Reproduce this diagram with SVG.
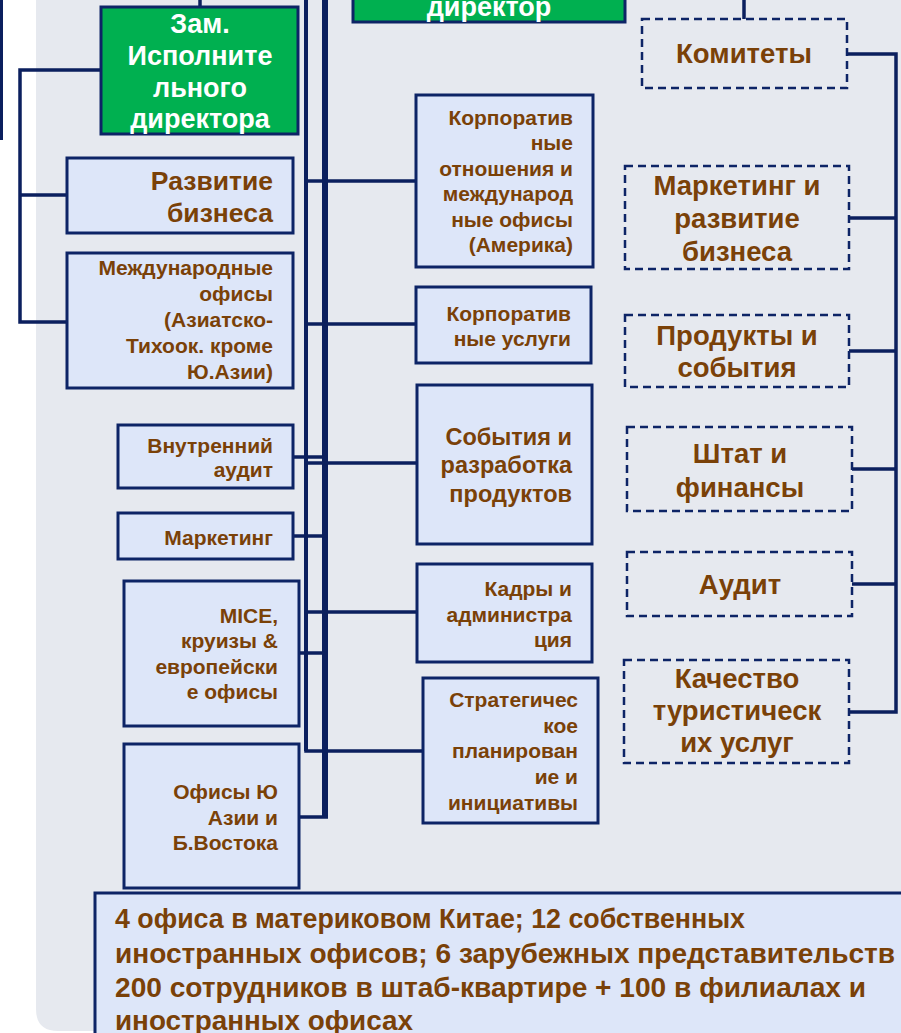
<svg xmlns="http://www.w3.org/2000/svg" width="901" height="1033" viewBox="0 0 901 1033">
<style>
.box{fill:#dde6f9;stroke:#0d2466;stroke-width:3}
.green{fill:#00b050;stroke:#0d2466;stroke-width:3}
.dash{fill:none;stroke:#0d2466;stroke-width:2.5;stroke-dasharray:8 5}
.ln{fill:none;stroke:#0b1f5e;stroke-width:3.5}
.bus{fill:none;stroke:#0b1f5e}
text{font-family:"Liberation Sans",Arial,sans-serif;font-weight:bold}
.w{fill:#ffffff;font-size:27px;text-anchor:middle}
.b{fill:#7a4108}
.r{text-anchor:end}
.c{text-anchor:middle}
.s20{font-size:21px}
.s23{font-size:23.5px}
.s25{font-size:26.5px}
.s26{font-size:27.5px}
.s27{font-size:27px}
</style>
<rect x="0" y="0" width="901" height="1033" fill="#ffffff"/>
<path d="M36 0 H901 V1031 H58 Q36 1031 36 1009 Z" fill="#e6e9ef"/>
<line x1="1.5" y1="0" x2="1.5" y2="140" stroke="#0b1f5e" stroke-width="3"/>

<g id="connectors">
  <line class="ln" x1="200" y1="0" x2="200" y2="8"/>
  <polyline class="ln" points="744,0 744,19"/>
  <polyline class="ln" points="101,70 20,70 20,322 67,322"/>
  <line class="ln" x1="20" y1="195" x2="67" y2="195"/>
  <line class="bus" stroke-width="4" x1="306" y1="0" x2="306" y2="751"/>
  <line class="bus" stroke-width="6" x1="325" y1="0" x2="325" y2="817"/>
  <line class="ln" x1="306" y1="181" x2="416" y2="181"/>
  <line class="ln" x1="306" y1="324" x2="416" y2="324"/>
  <line class="ln" x1="293" y1="457" x2="325" y2="457"/>
  <line class="ln" x1="306" y1="463" x2="417" y2="463"/>
  <line class="ln" x1="293" y1="536" x2="325" y2="536"/>
  <line class="ln" x1="306" y1="612" x2="417" y2="612"/>
  <line class="ln" x1="299" y1="653" x2="325" y2="653"/>
  <polyline class="ln" points="306,749 306,751 423,751"/>
  <polyline class="ln" points="299,817 328,817"/>
  <polyline class="ln" points="847,54 896,54 896,712 849,712"/>
  <line class="ln" x1="849" y1="218" x2="896" y2="218"/>
  <line class="ln" x1="849" y1="351" x2="896" y2="351"/>
  <line class="ln" x1="852" y1="469" x2="896" y2="469"/>
  <line class="ln" x1="852" y1="584" x2="896" y2="584"/>
</g>

<g id="director">
  <rect class="green" x="353" y="-10" width="272" height="32"/>
  <text class="w" x="489" y="16">директор</text>
</g>
<g id="deputy">
  <rect class="green" x="101" y="7" width="197" height="127"/>
  <text class="w" x="200" y="33">Зам.</text>
  <text class="w" x="200" y="65">Исполните</text>
  <text class="w" x="200" y="97">льного</text>
  <text class="w" x="200" y="128">директора</text>
</g>
<g id="razvitie">
  <rect class="box" x="67" y="158" width="226" height="75"/>
  <text class="b r s25" x="273" y="190">Развитие</text>
  <text class="b r s25" x="273" y="222">бизнеса</text>
</g>
<g id="mezhdunarodnye">
  <rect class="box" x="67" y="253" width="226" height="135"/>
  <text class="b r s20" x="273" y="275">Международные</text>
  <text class="b r s20" x="273" y="301">офисы</text>
  <text class="b r s20" x="273" y="327">(Азиатско-</text>
  <text class="b r s20" x="273" y="353">Тихоок. кроме</text>
  <text class="b r s20" x="273" y="379">Ю.Азии)</text>
</g>
<g id="audit-int">
  <rect class="box" x="118" y="425" width="175" height="63"/>
  <text class="b r s20" x="273" y="453">Внутренний</text>
  <text class="b r s20" x="273" y="477">аудит</text>
</g>
<g id="marketing-small">
  <rect class="box" x="118" y="513" width="175" height="46"/>
  <text class="b r s20" x="273" y="545">Маркетинг</text>
</g>
<g id="mice">
  <rect class="box" x="124" y="581" width="175" height="145"/>
  <text class="b r s20" x="278" y="623">MICE,</text>
  <text class="b r s20" x="278" y="648">круизы &amp;</text>
  <text class="b r s20" x="278" y="674">европейски</text>
  <text class="b r s20" x="278" y="699">е офисы</text>
</g>
<g id="south-asia">
  <rect class="box" x="124" y="744" width="175" height="144"/>
  <text class="b r s20" x="278" y="799">Офисы Ю</text>
  <text class="b r s20" x="278" y="825">Азии и</text>
  <text class="b r s20" x="278" y="850">Б.Востока</text>
</g>
<g id="corp-relations">
  <rect class="box" x="416" y="95" width="177" height="172"/>
  <text class="b r s20" x="573" y="125">Корпоратив</text>
  <text class="b r s20" x="573" y="150">ные</text>
  <text class="b r s20" x="573" y="176">отношения и</text>
  <text class="b r s20" x="573" y="201">международ</text>
  <text class="b r s20" x="573" y="227">ные офисы</text>
  <text class="b r s20" x="573" y="252">(Америка)</text>
</g>
<g id="corp-services">
  <rect class="box" x="416" y="287" width="175" height="76"/>
  <text class="b r s20" x="571" y="321">Корпоратив</text>
  <text class="b r s20" x="571" y="346">ные услуги</text>
</g>
<g id="events">
  <rect class="box" x="417" y="385" width="175" height="159"/>
  <text class="b r s23" x="572" y="445">События и</text>
  <text class="b r s23" x="572" y="473">разработка</text>
  <text class="b r s23" x="572" y="502">продуктов</text>
</g>
<g id="hr">
  <rect class="box" x="417" y="564" width="175" height="98"/>
  <text class="b r s20" x="572" y="596">Кадры  и</text>
  <text class="b r s20" x="572" y="622">администра</text>
  <text class="b r s20" x="572" y="647">ция</text>
</g>
<g id="strategy">
  <rect class="box" x="423" y="678" width="175" height="145"/>
  <text class="b r s20" x="578" y="707">Стратегичес</text>
  <text class="b r s20" x="578" y="733">кое</text>
  <text class="b r s20" x="578" y="758">планирован</text>
  <text class="b r s20" x="578" y="784">ие и</text>
  <text class="b r s20" x="578" y="810">инициативы</text>
</g>

<g id="committees">
  <rect class="dash" x="642" y="19" width="205" height="69"/>
  <text class="b c s26" x="744" y="63">Комитеты</text>
</g>
<g id="c-marketing">
  <rect class="dash" x="625" y="166" width="224" height="103"/>
  <text class="b c s26" x="737" y="195">Маркетинг и</text>
  <text class="b c s26" x="737" y="228">развитие</text>
  <text class="b c s26" x="737" y="261">бизнеса</text>
</g>
<g id="c-products">
  <rect class="dash" x="625" y="315" width="224" height="72"/>
  <text class="b c s26" x="737" y="345">Продукты и</text>
  <text class="b c s26" x="737" y="377">события</text>
</g>
<g id="c-staff">
  <rect class="dash" x="627" y="427" width="225" height="84"/>
  <text class="b c s26" x="740" y="463">Штат и</text>
  <text class="b c s26" x="740" y="497">финансы</text>
</g>
<g id="c-audit">
  <rect class="dash" x="627" y="552" width="225" height="64"/>
  <text class="b c s26" x="740" y="594">Аудит</text>
</g>
<g id="c-quality">
  <rect class="dash" x="624" y="660" width="225" height="103"/>
  <text class="b c s26" x="737" y="688">Качество</text>
  <text class="b c s26" x="737" y="720">туристическ</text>
  <text class="b c s26" x="737" y="752">их услуг</text>
</g>

<g id="info">
  <rect class="box" x="95" y="893" width="830" height="160"/>
  <text class="b s27" x="115" y="928" textLength="630" lengthAdjust="spacingAndGlyphs">4 офиса в материковом Китае; 12 собственных</text>
  <text class="b s27" x="115" y="963" textLength="780" lengthAdjust="spacingAndGlyphs">иностранных офисов; 6 зарубежных представительств</text>
  <text class="b s27" x="115" y="997" textLength="751" lengthAdjust="spacingAndGlyphs">200 сотрудников в штаб-квартире + 100 в филиалах и</text>
  <text class="b s27" x="115" y="1030" textLength="298" lengthAdjust="spacingAndGlyphs">иностранных офисах</text>
</g>
</svg>
